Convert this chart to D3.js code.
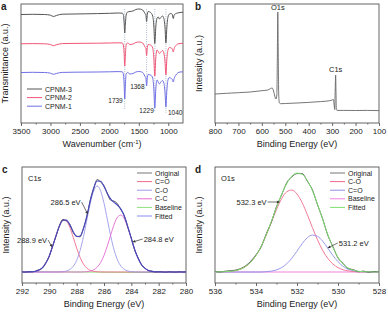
<!DOCTYPE html>
<html>
<head>
<meta charset="utf-8">
<script src="https://cdn.jsdelivr.net/npm/d3@7"></script>
<style>
  body { margin: 0; background: #fff; }
  svg text { font-family: "Liberation Sans", Arial, sans-serif; fill: #222; }
</style>
</head>
<body>
<svg id="chart" width="388" height="316"></svg>
<script>
// ---- a: FTIR spectra (stacked, a.u.) ----
const irWavenumber = [3500, 3300, 3100, 3000, 2950, 2900, 2800, 2600, 2400, 2200, 2000, 1850, 1780, 1760, 1750, 1739, 1728, 1715, 1690, 1650, 1600, 1550, 1500, 1450, 1420, 1395, 1380, 1368, 1355, 1340, 1300, 1265, 1245, 1229, 1212, 1190, 1170, 1150, 1125, 1100, 1075, 1055, 1040, 1025, 1005, 980, 950, 930, 915, 900, 870, 840, 800, 750]
const irCPNM3 = [108.5, 108.7, 108.5, 107.8, 106.5, 107.5, 108.8, 109.0, 109.2, 109.4, 109.7, 110.0, 109.8, 107.5, 101, 90, 99, 108, 111, 111.5, 112, 113.5, 114, 113.5, 112, 109.5, 108, 101.5, 109, 111.5, 110.5, 107, 97, 79.5, 96, 105, 106, 104, 105.5, 107, 104.5, 95, 80, 95, 106, 109, 109.5, 108, 104.5, 108, 109.5, 110, 110.5, 110.8]
const irCPNM2 = [79.2, 79.4, 79.2, 78.5, 77.3, 78.2, 79.4, 79.6, 79.7, 79.8, 80.0, 80.2, 80.0, 77, 70, 57, 68, 78, 80, 78.5, 79, 80.5, 81, 80.5, 79, 76, 74.5, 67.5, 76, 78.5, 78, 75, 65, 47, 65, 73, 71.5, 69.5, 71, 72.5, 70, 61, 48, 63, 73, 75.5, 75, 74, 71, 74.5, 77.5, 79, 79.5, 79.8]
const irCPNM1 = [50.5, 50.7, 50.5, 49.8, 48.7, 49.5, 50.6, 50.8, 50.9, 51.0, 51.2, 51.4, 51.2, 48, 40, 24, 38, 49, 50.5, 49, 49.5, 51, 51.5, 51, 49.5, 46.5, 45, 37, 46, 48.5, 48, 45, 34, 15, 34, 43, 41, 39, 41, 42.5, 40, 30, 16, 32, 43, 45.5, 44.5, 43.5, 41, 44.5, 48, 50, 51, 51.2]
const irSeries = ["CPNM-3", "CPNM-2", "CPNM-1"]
const irMarked = [1739, 1368, 1229, 1040]
const irTicks = [3500, 3000, 2500, 2000, 1500, 1000]

// ---- b: XPS survey ----
const surveyEnergy = [800, 750, 700, 650, 600, 575, 562, 556, 550, 545, 540, 536, 534, 532, 530, 528, 525, 520, 500, 450, 400, 350, 310, 300, 295, 291, 289, 287, 285, 283.5, 282, 279, 250, 200, 150, 100]
const surveyCounts = [29, 29.7, 30.3, 31, 32.3, 33, 34.5, 35, 32, 27, 24, 28, 63, 111, 68, 28, 20, 19.3, 19.5, 20, 20.6, 21.4, 22.3, 23, 23.6, 17, 13.5, 33, 48, 30, 13.5, 12.6, 12.6, 12.5, 12.6, 12.4]
const surveyTicks = [800, 700, 600, 500, 400, 300, 200, 100]

// ---- c: C1s high resolution ----
const c1sEnergy = d3.range(292, 279.99, -0.25)
const c1sOriginal = [0.3, -0.2, 0.4, 0.1, 1.0, 2.3, 4.0, 9.6, 15.8, 26.5, 36.2, 46.9, 52.6, 51.2, 47.7, 39.4, 35.9, 35.2, 44.1, 55.7, 72.3, 83.6, 92.4, 90.1, 86.2, 77.9, 71.6, 70.8, 67.9, 62.0, 55.9, 44.4, 33.9, 21.7, 14.1, 6.9, 3.9, 1.3, 0.9, -0.1, 0.4, 0.2, -0.3, 0.3, 0.1, -0.2, 0.4, 0.0, 0.2]
const c1sCdO = [0, 0, 0.1, 0.3, 0.7, 1.9, 4.4, 9.0, 16.3, 26.0, 36.8, 46.2, 51.5, 50.9, 44.6, 34.6, 23.9, 14.6, 7.9, 3.8, 1.6, 0.6, 0.2, 0.1, 0, 0, 0, 0, 0, 0, 0, 0, 0, 0, 0, 0, 0, 0, 0, 0, 0, 0, 0, 0, 0, 0, 0, 0, 0]
const c1sCO = [0, 0, 0, 0, 0, 0, 0, 0, 0, 0, 0, 0.1, 0.3, 1.0, 2.5, 5.7, 11.6, 21.5, 35.4, 52.2, 68.9, 81.3, 86, 81.3, 68.9, 52.2, 35.4, 21.5, 11.6, 5.7, 2.5, 1.0, 0.3, 0.1, 0, 0, 0, 0, 0, 0, 0, 0, 0, 0, 0, 0, 0, 0, 0]
const c1sCC = [0, 0, 0, 0, 0, 0, 0, 0, 0, 0, 0, 0, 0, 0, 0, 0, 0, 0, 0.1, 0.3, 0.9, 2.2, 4.8, 9.4, 16.6, 26.4, 37.5, 47.9, 55.1, 56.9, 52.8, 44.0, 33.0, 22.2, 13.5, 7.3, 3.6, 1.6, 0.6, 0.2, 0.1, 0, 0, 0, 0, 0, 0, 0, 0]
const c1sFitted = [0, 0, 0.1, 0.3, 0.7, 1.9, 4.4, 9.0, 16.3, 26.0, 36.8, 46.3, 51.8, 51.9, 47.1, 40.3, 35.5, 36.1, 43.4, 56.3, 71.4, 84.1, 91.0, 90.8, 85.5, 78.6, 72.9, 69.4, 66.7, 62.6, 55.3, 45.0, 33.3, 22.3, 13.5, 7.3, 3.6, 1.6, 0.6, 0.2, 0.1, 0, 0, 0, 0, 0, 0, 0, 0]
const c1sBaseline = [0.3, -0.6]
const c1sTicks = [292, 290, 288, 286, 284, 282, 280]

// ---- d: O1s high resolution ----
const o1sEnergy = d3.range(536, 527.99, -0.25)
const o1sOriginal = [0.6, 0.0, 0.8, 1.3, 1.9, 3.4, 6.3, 10.9, 17.2, 25.0, 38.1, 50.1, 65.4, 77.1, 89.3, 95.2, 98.4, 98.5, 90.9, 82.2, 67.2, 53.3, 36.9, 25.5, 14.0, 8.6, 3.4, 2.4, 0.2, 0.9, -0.3, 0.5, 0.1]
const o1sCO = [0.0, 0.1, 0.3, 0.7, 1.4, 2.9, 5.6, 10.0, 16.5, 25.6, 36.9, 49.7, 62.5, 73.3, 80.2, 81.9, 78.0, 69.4, 57.5, 44.5, 32.2, 21.7, 13.6, 8.0, 4.4, 2.2, 1.1, 0.5, 0.2, 0.1, 0, 0, 0]
const o1sCdO = [0, 0, 0, 0, 0, 0, 0, 0, 0, 0, 0.3, 0.9, 2.1, 4.4, 8.2, 13.9, 20.9, 28.3, 34.2, 36.9, 35.7, 30.9, 23.9, 16.6, 10.3, 5.7, 2.8, 1.3, 0.5, 0.2, 0.1, 0, 0]
const o1sFitted = [0.0, 0.1, 0.3, 0.7, 1.4, 2.9, 5.6, 10.0, 16.5, 25.6, 37.2, 50.6, 64.6, 77.7, 88.4, 95.8, 98.9, 97.7, 91.7, 81.4, 67.9, 52.6, 37.5, 24.6, 14.7, 7.9, 3.9, 1.8, 0.7, 0.3, 0.1, 0, 0]
const o1sBaseline = [0, 0]
const o1sTicks = [536, 534, 532, 530, 528]

const svg = d3.select("#chart")

// frame + bottom axis for one panel; x/y are scales
function drawFrame(x, y, major, minor, xTitle, yTitle, letter) {
  const [x0, x1] = x.range()
  const [y0, y1] = y.range()
  const g = svg.append("g")

  g.append("g")
    .attr("transform", `translate(0,${y0})`)
    .call(d3.axisBottom(x).tickValues(minor).tickSize(1.5).tickFormat(""))
    .call(a => a.select(".domain").remove())
  g.append("g")
    .attr("transform", `translate(0,${y0})`)
    .call(d3.axisBottom(x).tickValues(major).tickSize(3).tickPadding(2.5).tickFormat(d3.format("d")))
    .call(a => a.select(".domain").remove())
    .selectAll("text")
    .style("font-size", "8px")
  g.selectAll(".tick line").attr("stroke", "#444").attr("stroke-width", 0.8)

  g.append("rect")
    .attr("x", x0).attr("y", y1)
    .attr("width", x1 - x0).attr("height", y0 - y1)
    .attr("fill", "none").attr("stroke", "#555").attr("stroke-width", 0.9)

  g.append("text")
    .attr("x", (x0 + x1) / 2).attr("y", y0 + 24)
    .attr("text-anchor", "middle").style("font-size", "9px")
    .html(xTitle)
  g.append("text")
    .attr("transform", `translate(${x0 - 13},${(y0 + y1) / 2}) rotate(-90)`)
    .attr("text-anchor", "middle").style("font-size", "9px")
    .text(yTitle)
  g.append("text")
    .attr("x", x0 - 20).attr("y", y1 + 6)
    .style("font-size", "10px").style("font-weight", "bold")
    .text(letter)
}

function plotLine(xs, ys, x, y, color, width) {
  const line = d3.line().x(d => x(d[0])).y(d => y(d[1])).curve(d3.curveMonotoneX)
  svg.append("path")
    .datum(xs.map((v, i) => [v, ys[i]]))
    .attr("d", line)
    .attr("fill", "none")
    .attr("stroke", color)
    .attr("stroke-width", width || 0.9)
}

function legend(items, x0, yTop) {
  items.forEach((it, i) => {
    const yy = yTop + i * 8.6
    svg.append("line")
      .attr("x1", x0).attr("x2", x0 + 15).attr("y1", yy).attr("y2", yy)
      .attr("stroke", it.color).attr("stroke-width", 1)
    svg.append("text")
      .attr("x", x0 + 18).attr("y", yy + 2.5)
      .style("font-size", "7px").text(it.name)
  })
}

function arrowLabel(text, tip, dx, dy, anchor) {
  const [tx, ty] = tip
  svg.append("line")
    .attr("x1", tx + dx).attr("y1", ty + dy).attr("x2", tx).attr("y2", ty)
    .attr("stroke", "#333").attr("stroke-width", 0.7)
  const ang = Math.atan2(-dy, -dx)
  const a1 = ang + Math.PI - 0.45, a2 = ang + Math.PI + 0.45
  svg.append("path")
    .attr("d", `M${tx},${ty}L${tx + 3 * Math.cos(a1)},${ty + 3 * Math.sin(a1)}L${tx + 3 * Math.cos(a2)},${ty + 3 * Math.sin(a2)}Z`)
    .attr("fill", "#333")
  svg.append("text")
    .attr("x", anchor === "end" ? tx + dx - 1 : tx + dx + 1)
    .attr("y", ty + dy + 2.5)
    .attr("text-anchor", anchor)
    .style("font-size", "7.5px").text(text)
}

// ---- panel a ----
{
  const x = d3.scaleLinear().domain([3500, 750]).range([21, 183])
  const y = d3.scaleLinear().domain([0, 119]).range([123, 4])
  drawFrame(x, y, irTicks, d3.range(3250, 750, -500), "Wavenumber (cm<tspan dy='-3' font-size='6px'>-1</tspan><tspan dy='3'>)</tspan>", "Transmittance (a.u.)", "a")

  irMarked.forEach((w, i) => {
    svg.append("line")
      .attr("x1", x(w)).attr("x2", x(w))
      .attr("y1", 9).attr("y2", [110, 87, 112, 113][i])
      .attr("stroke", "#8fa3bd").attr("stroke-width", 0.8)
      .attr("stroke-dasharray", "1,1.3")
  })
  const colors = ["#555555", "#f25577", "#6f6fe6"]
  const data = [irCPNM3, irCPNM2, irCPNM1]
  data.forEach((s, i) => plotLine(irWavenumber, s, x, y, colors[i], 1))

  const lbl = [[1739, -2, 103, "end"], [1368, -2, 89, "end"], [1229, -1, 113, "end"], [1040, 2, 115, "start"]]
  lbl.forEach(d => {
    svg.append("text")
      .attr("x", x(d[0]) + d[1]).attr("y", d[2])
      .attr("text-anchor", d[3])
      .style("font-size", "6.5px").text(d[0])
  })
  legend(irSeries.map((n, i) => ({ name: n, color: colors[i] })), 27, 89)
}

// ---- panel b ----
{
  const x = d3.scaleLinear().domain([800, 100]).range([215, 379])
  const y = d3.scaleLinear().domain([0, 119]).range([123, 4])
  drawFrame(x, y, surveyTicks, d3.range(750, 100, -100), "Binding Energy (eV)", "Intensity (a.u.)", "b")
  plotLine(surveyEnergy, surveyCounts, x, y, "#666", 0.9)
  svg.append("text").attr("x", x(532)).attr("y", 10)
    .attr("text-anchor", "middle").style("font-size", "7.5px").text("O1s")
  svg.append("text").attr("x", x(285)).attr("y", 72)
    .attr("text-anchor", "middle").style("font-size", "7.5px").text("C1s")
}

// ---- panel c ----
{
  const x = d3.scaleLinear().domain([292, 280]).range([22, 186])
  const y = d3.scaleLinear().domain([-11, 105]).range([283, 167])
  drawFrame(x, y, c1sTicks, d3.range(291, 280, -2), "Binding Energy (eV)", "Intensity (a.u.)", "c")
  const cols = { orig: "#555", cdo: "#f26b8a", co: "#9a9aea", cc: "#e46ad0", base: "#8fe07a", fit: "#4747c2" }
  plotLine([292, 280], c1sBaseline, x, y, cols.base, 1)
  plotLine(c1sEnergy, c1sCdO, x, y, cols.cdo, 0.9)
  plotLine(c1sEnergy, c1sCO, x, y, cols.co, 0.9)
  plotLine(c1sEnergy, c1sCC, x, y, cols.cc, 0.9)
  plotLine(c1sEnergy, c1sOriginal, x, y, cols.orig, 1)
  plotLine(c1sEnergy, c1sFitted, x, y, cols.fit, 1.1)
  svg.append("text").attr("x", 28).attr("y", 181).style("font-size", "7.5px").text("C1s")
  legend([
    { name: "Original", color: "#777" }, { name: "C=O", color: cols.cdo },
    { name: "C-O", color: cols.co }, { name: "C-C", color: cols.cc },
    { name: "Baseline", color: cols.base }, { name: "Fitted", color: "#8a8af0" }
  ], 137, 173)
  arrowLabel("288.9 eV", [x(289.8), y(25)], -4, -7, "end")
  arrowLabel("286.5 eV", [x(287.2), y(58)], -6, -12, "end")
  arrowLabel("284.8 eV", [x(283.9), y(30)], 10, -3, "start")
}

// ---- panel d ----
{
  const x = d3.scaleLinear().domain([536, 528]).range([215, 379])
  const y = d3.scaleLinear().domain([-11, 105]).range([283, 167])
  drawFrame(x, y, o1sTicks, d3.range(535, 528, -2), "Binding Energy (eV)", "Intensity (a.u.)", "d")
  const cols = { orig: "#333", co: "#f26b8a", cdo: "#8f8fe6", base: "#ee82e0", fit: "#7ee070" }
  plotLine([536, 528], o1sBaseline, x, y, cols.base, 1.1)
  plotLine(o1sEnergy, o1sCO, x, y, cols.co, 0.9)
  plotLine(o1sEnergy, o1sCdO, x, y, cols.cdo, 0.9)
  plotLine(o1sEnergy, o1sOriginal, x, y, cols.orig, 0.8)
  plotLine(o1sEnergy, o1sFitted, x, y, cols.fit, 1)
  svg.append("text").attr("x", 221).attr("y", 181).style("font-size", "7.5px").text("O1s")
  legend([
    { name: "Original", color: "#777" }, { name: "C-O", color: cols.co },
    { name: "C=O", color: cols.cdo }, { name: "Baseline", color: cols.base },
    { name: "Fitted", color: cols.fit }
  ], 330, 173)
  arrowLabel("532.3 eV", [x(532.85), y(70)], -12, 0, "end")
  arrowLabel("531.2 eV", [x(530.5), y(24)], 10, -5, "start")
}
</script>
</body>
</html>
